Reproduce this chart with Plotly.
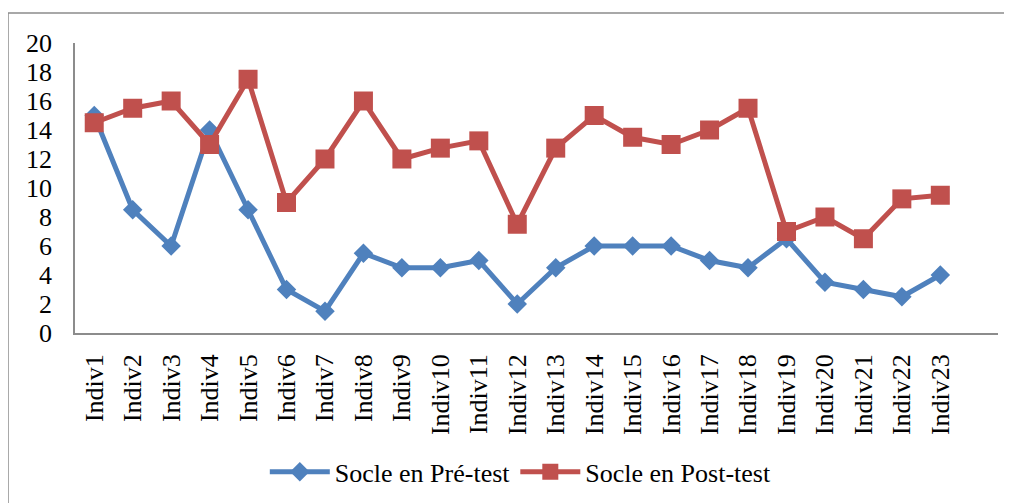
import plotly.graph_objects as go

categories = [f"Indiv{i}" for i in range(1, 24)]
pre_test = [15, 8.5, 6, 14, 8.5, 3, 1.5, 5.5, 4.5, 4.5, 5, 2, 4.5, 6, 6, 6, 5, 4.5, 6.5, 3.5, 3, 2.5, 4]
post_test = [14.5, 15.5, 16, 13, 17.5, 9, 12, 16, 12, 12.75, 13.25, 7.5, 12.75, 15, 13.5, 13, 14, 15.5, 7, 8, 6.5, 9.25, 9.5]
y_ticks = list(range(0, 21, 2))

BLUE = "#4F81BD"
RED = "#C0504D"
FONT = "Liberation Serif"

fig = go.Figure()
fig.add_trace(go.Scatter(
    x=categories, y=pre_test, name="Socle en Pré-test", mode="lines+markers",
    line=dict(color=BLUE, width=5),
    marker=dict(symbol="diamond", size=15, color=BLUE),
))
fig.add_trace(go.Scatter(
    x=categories, y=post_test, name="Socle en Post-test", mode="lines+markers",
    line=dict(color=RED, width=5),
    marker=dict(symbol="square", size=19, color=RED),
))

fig.update_layout(
    width=1012, height=503,
    margin=dict(l=67, r=22, t=35, b=178),
    paper_bgcolor="white", plot_bgcolor="white",
    font=dict(family=FONT, size=26, color="black"),
    showlegend=True,
    legend=dict(orientation="h", x=0.483, xanchor="center", y=-0.479, yanchor="middle",
                font=dict(family=FONT, size=26, color="black"), itemwidth=60),
    xaxis=dict(
        type="category", categoryarray=categories, range=[-0.5, 23.5],
        showline=True, linecolor="#8c8c8c", linewidth=1.5, showgrid=False,
        tickangle=-90, ticks="", ticklabelstandoff=9, zeroline=False,
        tickfont=dict(family=FONT, size=26, color="black"),
    ),
    yaxis=dict(
        range=[0, 20], tickvals=y_ticks, showline=True, linecolor="#8c8c8c", linewidth=1.5,
        showgrid=False, zeroline=False, ticks="", ticklabelstandoff=16,
        tickfont=dict(family=FONT, size=26, color="black"),
    ),
    shapes=[dict(type="rect", xref="paper", yref="paper",
                 x0=-0.0726, y0=-0.75, x1=1.1, y1=1.1034,
                 line=dict(color="#8c8c8c", width=1.5), layer="below")],
)

fig.write_html("out.html")
